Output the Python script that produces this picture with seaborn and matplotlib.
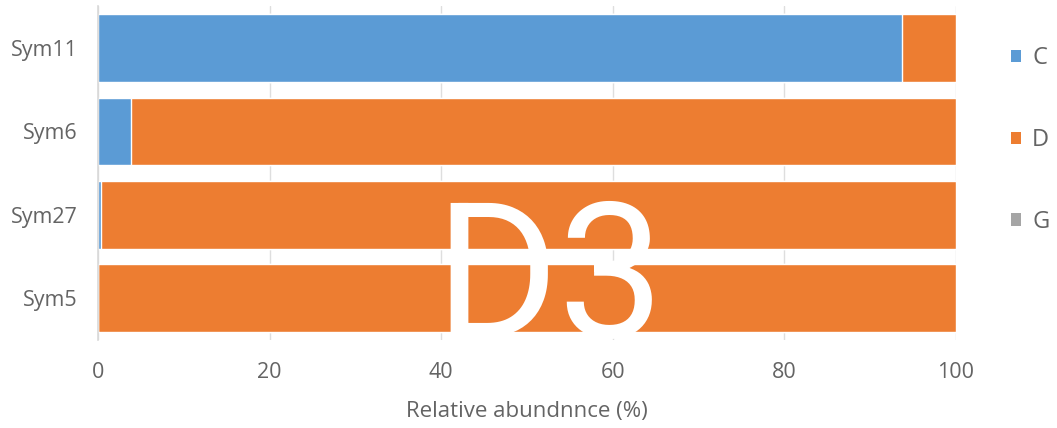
import matplotlib
matplotlib.use("Agg")
import matplotlib.pyplot as plt
from matplotlib import font_manager
from matplotlib.patches import Patch
import seaborn as sns
import pandas as pd

# Relative abundance (%) of each clade per Symbiodinium type
samples = ["Sym11", "Sym6", "Sym27", "Sym5"]
clade_c = [93.7, 3.8, 0.3, 0.0]
clade_d = [6.3, 96.2, 99.7, 100.0]
clade_g = [0.0, 0.0, 0.0, 0.0]

colors = {"C": "#5B9BD5", "D": "#ED7D31", "G": "#A5A5A5"}
text_color = "#646464"

sns.set_theme(style="white")
plt.rcParams["font.family"] = ["Open Sans", "DejaVu Sans"]

installed = {f.name for f in font_manager.fontManager.ttflist}
panel_font = "Liberation Sans Narrow" if "Liberation Sans Narrow" in installed else "Roboto"

df = pd.DataFrame({"sample": samples, "C": clade_c, "D": clade_d, "G": clade_g})
df["CD"] = df["C"] + df["D"]
df["CDG"] = df["CD"] + df["G"]

fig = plt.figure(figsize=(10.57, 4.28), dpi=100)
ax = fig.add_axes([0.0927, 0.2056, 0.8117, 0.780])

# stacked horizontal bars: draw cumulative totals back to front
sns.barplot(data=df, x="CDG", y="sample", order=samples, orient="h",
            color=colors["G"], width=0.81, saturation=1, ax=ax)
sns.barplot(data=df, x="CD", y="sample", order=samples, orient="h",
            color=colors["D"], width=0.81, saturation=1, ax=ax)
sns.barplot(data=df, x="C", y="sample", order=samples, orient="h",
            color=colors["C"], width=0.81, saturation=1, ax=ax)

ax.set_xlim(0, 100)
ax.set_ylim(3.5, -0.5)
ax.set_xticks([0, 20, 40, 60, 80, 100])
ax.grid(axis="x", color="#DEDEDE", linewidth=1)
ax.set_axisbelow(True)
for side in ["top", "right", "bottom"]:
    ax.spines[side].set_visible(False)
ax.spines["left"].set_color("#D9D9D9")
ax.spines["left"].set_linewidth(1.2)
ax.tick_params(axis="x", length=0, pad=15.5, labelsize=15.5, labelcolor=text_color)
ax.tick_params(axis="y", length=0, pad=14.5, labelsize=15.5, labelcolor=text_color)
ax.set_ylabel("")
ax.set_xlabel("Relative abundnnce (%)", fontsize=16, color=text_color, labelpad=13)

# panel label
ax.text(52.6, 3.46, "D3", color="white", fontsize=136, ha="center", va="baseline",
        family=[panel_font, "DejaVu Sans"])

handles = [Patch(facecolor=colors[k], edgecolor="none", label=k) for k in ["C", "D", "G"]]
leg = fig.legend(handles=handles, loc="upper left", bbox_to_anchor=(0.948, 0.914),
                 frameon=False, fontsize=17, labelspacing=2.45, handlelength=0.42,
                 handleheight=0.42, handletextpad=0.45, borderaxespad=0)
for t in leg.get_texts():
    t.set_color(text_color)

fig.savefig("out.png", dpi=100, facecolor="white")
